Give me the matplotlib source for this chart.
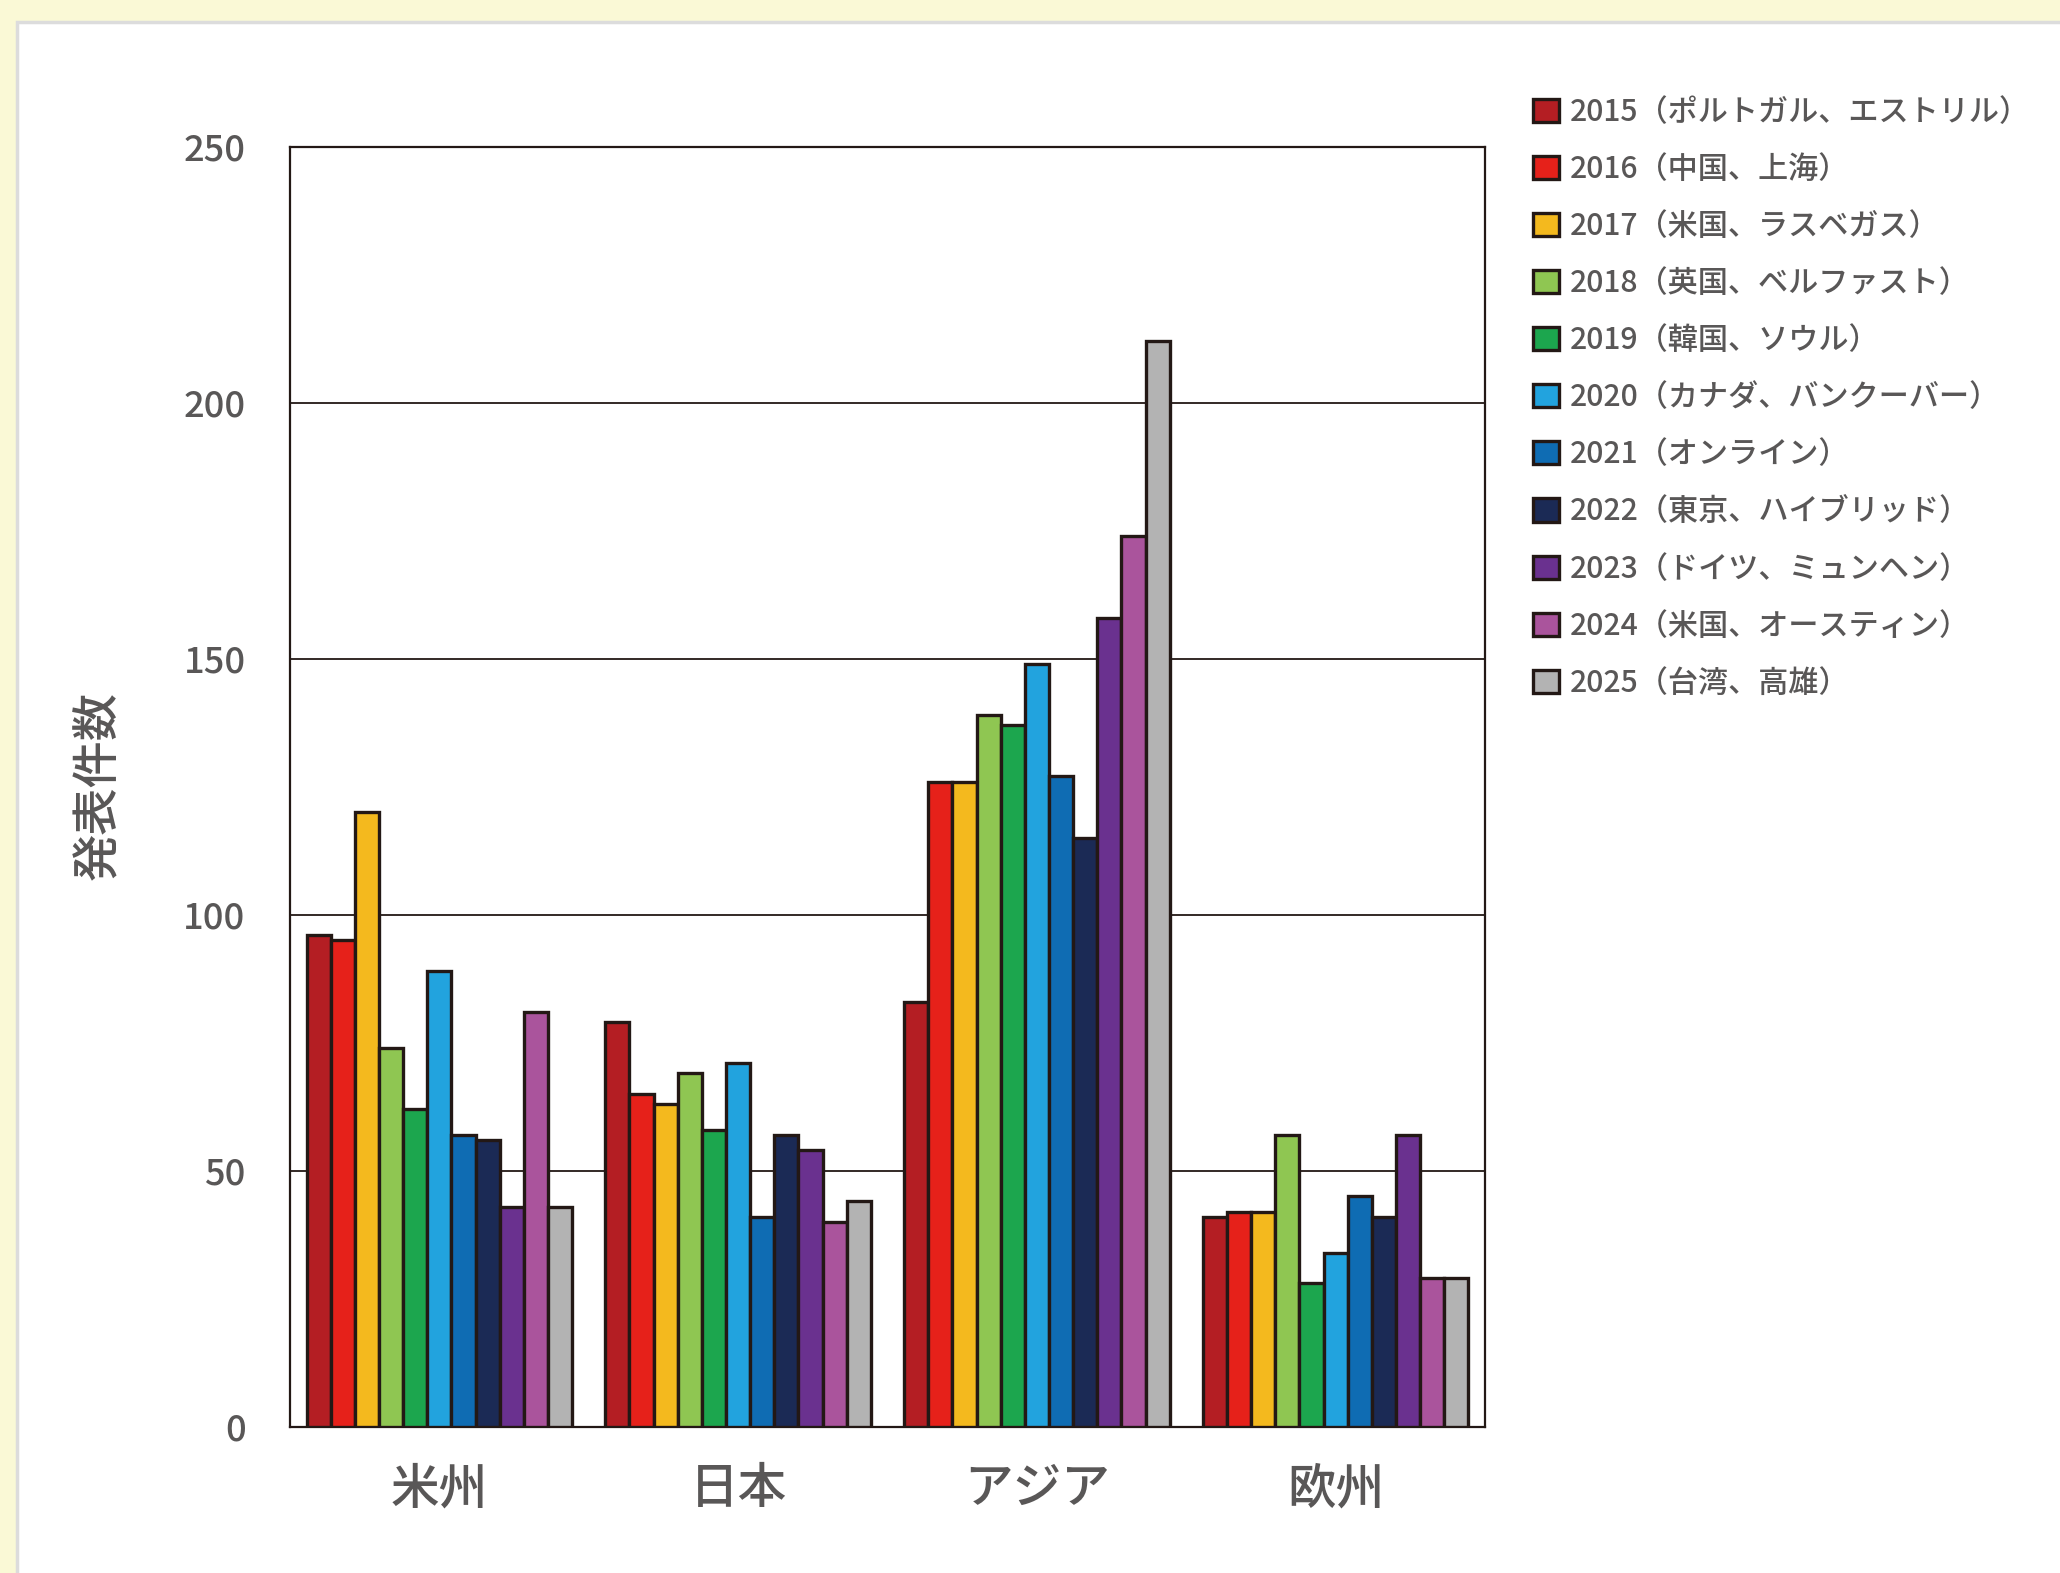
#bar chart: number of presentations per region and per conference year
import numpy as np
import matplotlib
matplotlib.use('Agg')
import matplotlib.pyplot as plt
from matplotlib.patches import Rectangle

plt.rcParams['font.family'] = ['Noto Sans CJK JP', 'DejaVu Sans']
plt.rcParams['font.weight'] = 'medium'

#data
regions = ['米州', '日本', 'アジア', '欧州']
years = ['2015（ポルトガル、エストリル）', '2016（中国、上海）', '2017（米国、ラスベガス）',
         '2018（英国、ベルファスト）', '2019（韓国、ソウル）', '2020（カナダ、バンクーバー）',
         '2021（オンライン）', '2022（東京、ハイブリッド）', '2023（ドイツ、ミュンヘン）',
         '2024（米国、オースティン）', '2025（台湾、高雄）']
america = [96, 95, 120, 74, 62, 89, 57, 56, 43, 81, 43]
japan = [79, 65, 63, 69, 58, 71, 41, 57, 54, 40, 44]
asia = [83, 126, 126, 139, 137, 149, 127, 115, 158, 174, 212]
europe = [41, 42, 42, 57, 28, 34, 45, 41, 57, 29, 29]
yticks = [0, 50, 100, 150, 200, 250]

colors = ['#B41E23', '#E6211A', '#F4B91E', '#8FC652', '#1CA64E', '#22A3DE',
          '#0F6CB3', '#1B2A55', '#6A318F', '#AA549C', '#B3B3B3']
edge = '#231815'
text_gray = '#595757'

W, H = 2060, 1573
fig = plt.figure(figsize=(W / 100, H / 100), dpi=100, facecolor='#FAF9D6')

#white panel with light gray border (left and top visible)
fig.patches.append(Rectangle((17 / W, -0.05), 1.2, 1 - 22 / H + 0.05, transform=fig.transFigure,
                             facecolor='white', edgecolor='#DCDCDC', linewidth=2.5, zorder=-5))

ax = fig.add_axes([290 / W, 146.3 / H, 1195 / W, 1280 / H])
ax.set_zorder(2)
ax.set_facecolor('white')

values = np.array([america, japan, asia, europe])   #rows = regions
n = len(years)
w = 0.889 / n
x = np.arange(len(regions))
for j in range(n):
    ax.bar(x + (j - (n - 1) / 2) * w, values[:, j], width=w, color=colors[j],
           edgecolor=edge, linewidth=2.4, label=years[j], zorder=3)

ax.set_xlim(-0.5, len(regions) - 0.5)
ax.set_ylim(0, 250)
ax.set_yticks(yticks)
ax.set_xticks(x)
ax.set_xticklabels(regions, fontsize=35, color=text_gray)
ax.tick_params(axis='y', length=0, pad=32, labelsize=26, labelcolor=text_gray)
ax.tick_params(axis='x', length=0, pad=27)
for y in yticks[1:-1]:
    ax.axhline(y, color=edge, linewidth=1.3, zorder=1)
for s in ax.spines.values():
    s.set_color(edge)
    s.set_linewidth(1.6)

fig.text(99 / W, 1 - 786 / H, '発表件数', rotation=90, fontsize=34, color=text_gray,
         ha='center', va='center')

fig.legend(loc='upper left', bbox_to_anchor=(1533 / W, 1 - 97 / H), frameon=False,
           fontsize=21.7, labelcolor=text_gray, handlelength=0.86, handleheight=0.8,
           handletextpad=0.35, labelspacing=0.865, borderpad=0, borderaxespad=0)

fig.savefig('out.png', dpi=100, facecolor=fig.get_facecolor())
